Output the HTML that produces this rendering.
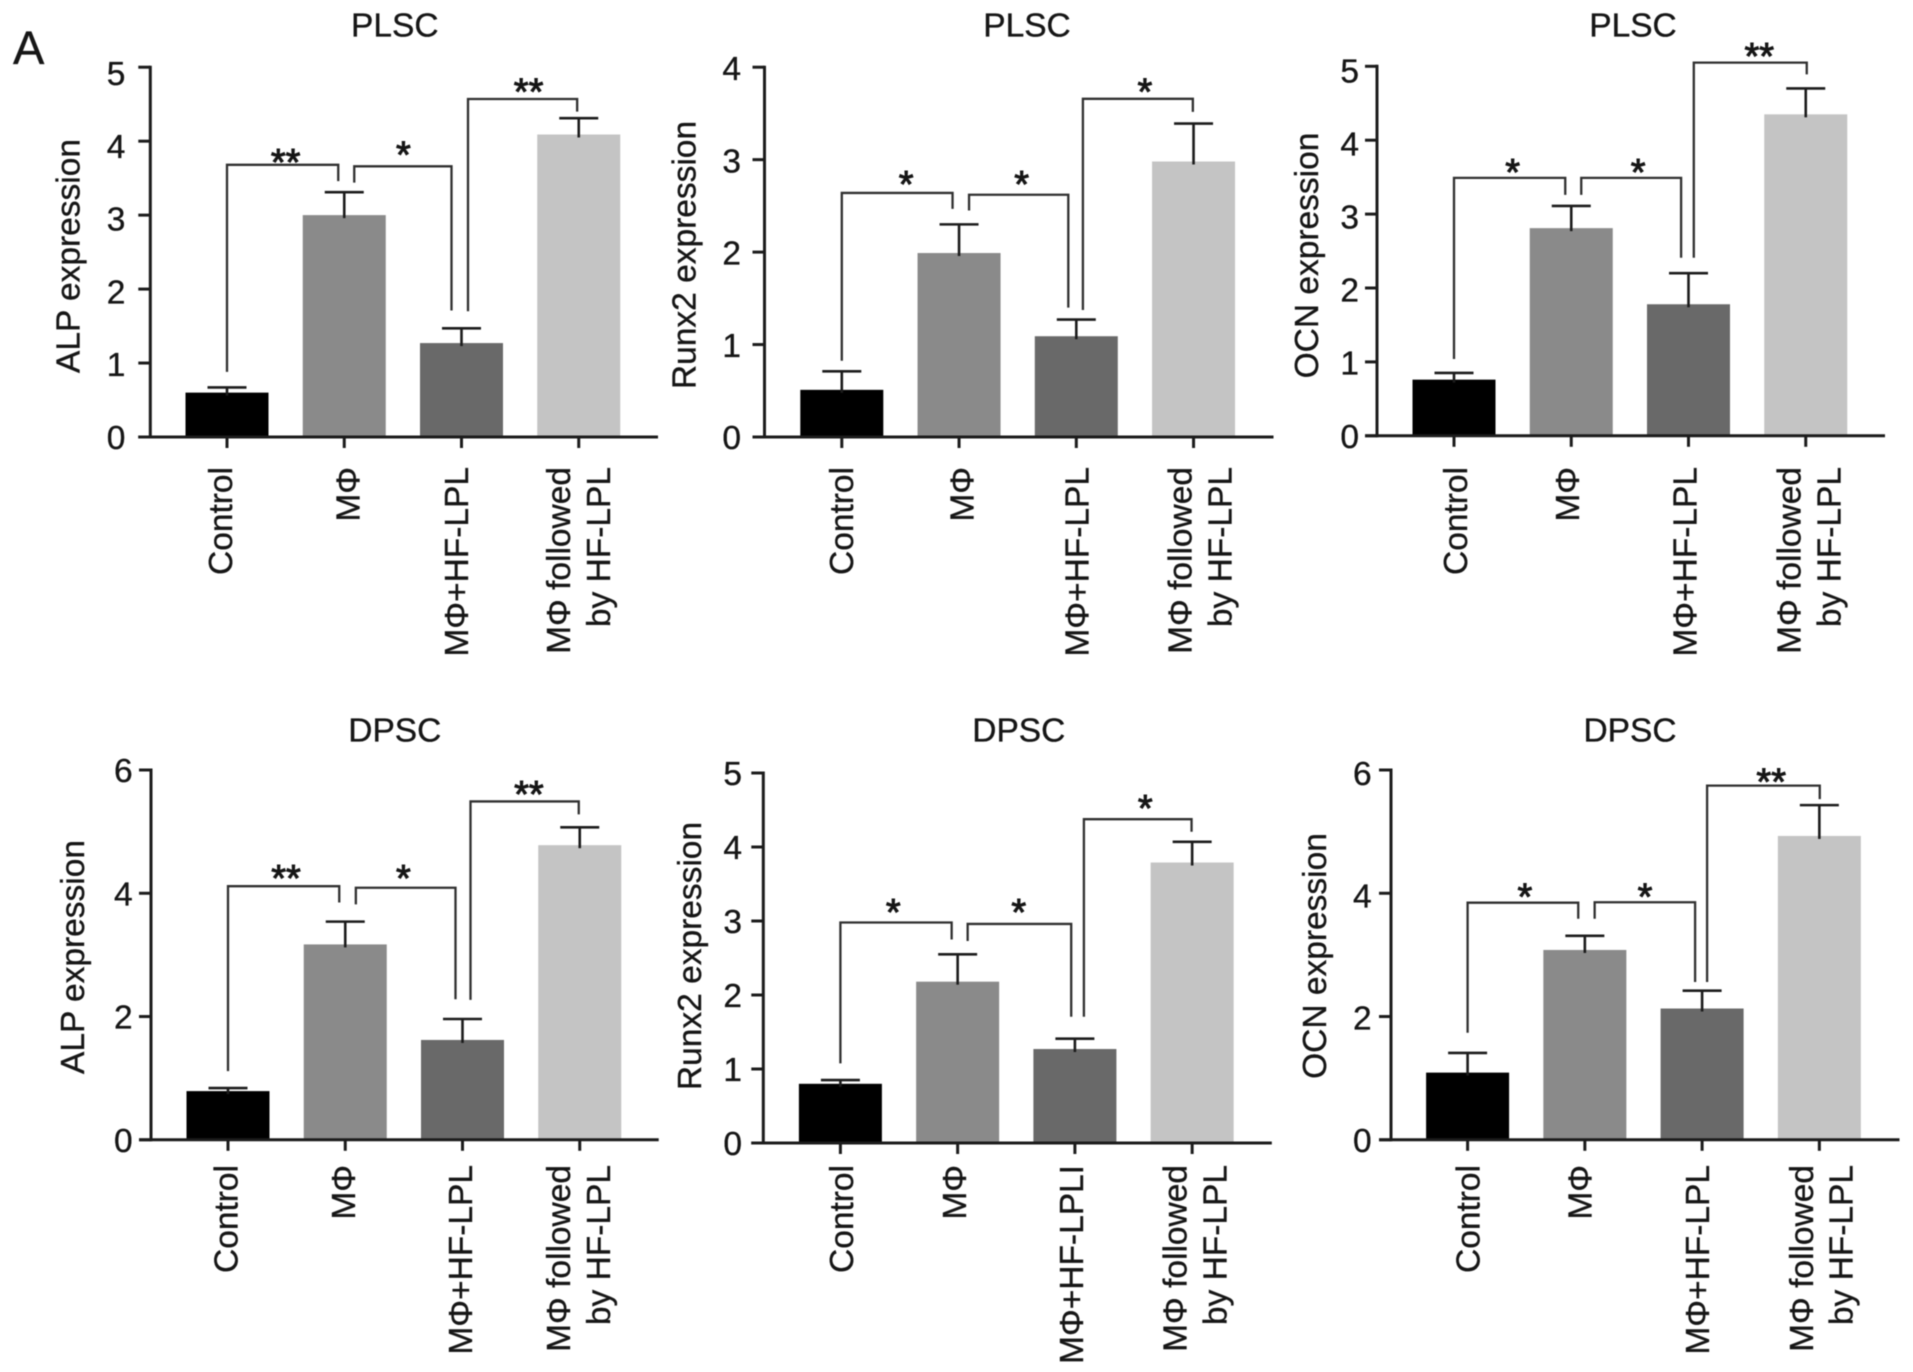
<!DOCTYPE html>
<html lang="en">
<head>
<meta charset="utf-8">
<title>PLSC and DPSC expression bar charts</title>
<style>
html,body{margin:0;padding:0;background:#fff;}
#figure{display:block;width:1913px;height:1372px;filter:blur(0.6px);}
text{font-family:"Liberation Sans",Arial,sans-serif;fill:#161616;stroke:#161616;stroke-width:0.35px;}
</style>
</head>
<body>
<svg id="figure" xmlns="http://www.w3.org/2000/svg" width="1913" height="1372" viewBox="0 0 1913 1372">
<rect x="0" y="0" width="1913" height="1372" fill="#fff"/>
<text x="13" y="64" font-size="47">A</text>
</svg>
<script>
// ---- category labels ----
const categoryLines = [['Control'], ['MΦ'], ['MΦ+HF-LPL'], ['MΦ followed', 'by HF-LPL']];
const categoryLinesRunx2Dpsc = [['Control'], ['MΦ'], ['MΦ+HF-LPLI'], ['MΦ followed', 'by HF-LPL']];

// ---- tick labels ----
const ticks0to5 = [0, 1, 2, 3, 4, 5];
const ticks0to4 = [0, 1, 2, 3, 4];
const ticks0to6 = [0, 2, 4, 6];

// ---- means and error-bar tops ----
const alpPlscMeans = [0.60, 3.00, 1.27, 4.09];
const alpPlscErrorTops = [0.67, 3.31, 1.47, 4.31];
const runx2PlscMeans = [0.51, 1.99, 1.09, 2.98];
const runx2PlscErrorTops = [0.71, 2.30, 1.27, 3.39];
const ocnPlscMeans = [0.76, 2.81, 1.78, 4.35];
const ocnPlscErrorTops = [0.85, 3.11, 2.20, 4.70];
const alpDpscMeans = [0.79, 3.17, 1.62, 4.78];
const alpDpscErrorTops = [0.84, 3.54, 1.96, 5.07];
const runx2DpscMeans = [0.80, 2.18, 1.27, 3.79];
const runx2DpscErrorTops = [0.85, 2.55, 1.41, 4.07];
const ocnDpscMeans = [1.09, 3.08, 2.13, 4.93];
const ocnDpscErrorTops = [1.41, 3.31, 2.42, 5.43];

// ---- significance brackets: [left end, top, right end] in axis units ----
const alpPlscBrackets = [[0.88, 3.68, 3.46], [3.44, 3.66, 1.71], [1.70, 4.57, 4.40]];
const runx2PlscBrackets = [[0.825, 2.64, 2.467], [2.45, 2.62, 1.40], [1.374, 3.658, 3.517]];
const ocnPlscBrackets = [[1.04, 3.49, 3.26], [3.26, 3.49, 2.41], [2.41, 5.05, 4.89]];
const alpDpscBrackets = [[1.115, 4.115, 3.85], [3.82, 4.09, 2.28], [2.27, 5.49, 5.28]];
const runx2DpscBrackets = [[1.076, 2.98, 2.75], [2.73, 2.96, 1.706], [1.706, 4.376, 4.206]];
const ocnDpscBrackets = [[1.736, 3.847, 3.586], [3.586, 3.854, 2.56], [2.56, 5.746, 5.527]];

// ---- significance marks ----
const alpPlscStars = ['**', '*', '**'];
const runx2PlscStars = ['*', '*', '*'];
const ocnPlscStars = ['*', '*', '**'];
const alpDpscStars = ['**', '*', '**'];
const runx2DpscStars = ['*', '*', '*'];
const ocnDpscStars = ['*', '*', '**'];

const barColors = ['#000000', '#8a8a8a', '#696969', '#c4c4c4'];
const inkColor = '#1c1c1c';

const panels = [
  {id:'alp-plsc', title:'PLSC', yTitle:'ALP expression', means:alpPlscMeans, tops:alpPlscErrorTops, brackets:alpPlscBrackets, stars:alpPlscStars, cats:categoryLines, ticks:ticks0to5,
   ax:150.3, xEnd:658, y0:437, yTop:67.2, c0:227, tickLabelRight:125.4, tickShift:6, titleX:394.8, titleY:36.4, yTitleX:79.5, yTitleY:256,
   catX:[232.2,359.3,468,570,610], catTop:467, gaps:[-6,10,-10,6.5,-1.6], starDx:[3,0.5,6], starDy:[9.6,18.6,14.3]},
  {id:'runx2-plsc', title:'PLSC', yTitle:'Runx2 expression', means:runx2PlscMeans, tops:runx2PlscErrorTops, brackets:runx2PlscBrackets, stars:runx2PlscStars, cats:categoryLines, ticks:ticks0to4,
   ax:764.5, xEnd:1273.5, y0:437, yTop:67.2, c0:841.8, tickLabelRight:741, tickShift:1, titleX:1027, titleY:36.4, yTitleX:695.5, yTitleY:255,
   catX:[853,973.4,1088.5,1191.5,1231.5], catTop:467, gaps:[-6.5,10,-8,6.6,-0.7], starDx:[9,3,7], starDy:[16,17.7,14.3]},
  {id:'ocn-plsc', title:'PLSC', yTitle:'OCN expression', means:ocnPlscMeans, tops:ocnPlscErrorTops, brackets:ocnPlscBrackets, stars:ocnPlscStars, cats:categoryLines, ticks:ticks0to5,
   ax:1377, xEnd:1885, y0:435.8, yTop:66.3, c0:1454, tickLabelRight:1359, tickShift:4, titleX:1633, titleY:36.4, yTitleX:1318, yTitleY:255.5,
   catX:[1467.2,1579,1696.4,1800.6,1840.4], catTop:467, gaps:[-6,10,-7.4,5.3,1], starDx:[3,7,9], starDy:[13,13,13.8]},
  {id:'alp-dpsc', title:'DPSC', yTitle:'ALP expression', means:alpDpscMeans, tops:alpDpscErrorTops, brackets:alpDpscBrackets, stars:alpDpscStars, cats:categoryLines, ticks:ticks0to6,
   ax:151, xEnd:658.7, y0:1139.8, yTop:770, c0:228, tickLabelRight:132.6, tickShift:0, titleX:394.8, titleY:741.3, yTitleX:84, yTitleY:957,
   catX:[237.3,355,471.8,570,610], catTop:1165, gaps:[-6,10.6,-7,8,-1], starDx:[2.4,-2.3,4.3], starDy:[15,16.5,14.3]},
  {id:'runx2-dpsc', title:'DPSC', yTitle:'Runx2 expression', means:runx2DpscMeans, tops:runx2DpscErrorTops, brackets:runx2DpscBrackets, stars:runx2DpscStars, cats:categoryLinesRunx2Dpsc, ticks:ticks0to5,
   ax:763.3, xEnd:1271.8, y0:1143, yTop:773, c0:840.4, tickLabelRight:742, tickShift:0, titleX:1018.8, titleY:741.3, yTitleX:701, yTitleY:956,
   catX:[853,966,1083.2,1186.6,1226.6], catTop:1165, gaps:[-6,10,-3.7,9,-0.6], starDx:[-2.7,-0.6,7.5], starDy:[17.5,19,18]},
  {id:'ocn-dpsc', title:'DPSC', yTitle:'OCN expression', means:ocnDpscMeans, tops:ocnDpscErrorTops, brackets:ocnDpscBrackets, stars:ocnDpscStars, cats:categoryLines, ticks:ticks0to6,
   ax:1391, xEnd:1899.5, y0:1139.8, yTop:770, c0:1467.6, tickLabelRight:1371.7, tickShift:3, titleX:1630, titleY:741.3, yTitleX:1326, yTitleY:956,
   catX:[1479.5,1591.4,1709,1813,1852.6], catTop:1165, gaps:[-6.6,9.8,-7,5,0.4], starDx:[2,0.2,7.8], starDy:[13,13,11.3]}
];

const BAR_STEP = 117.25;
const BAR_WIDTH = 83;
const CAP_WIDTH = 39;
const FONT = 33.5;
const svgNS = 'http://www.w3.org/2000/svg';
const figure = document.getElementById('figure');

function make(tag, props, parent) {
  const node = document.createElementNS(svgNS, tag);
  for (const key in props) node.setAttribute(key, props[key]);
  parent.appendChild(node);
  return node;
}

panels.forEach(function (p) {
  const maxTick = p.ticks[p.ticks.length - 1];
  const yScale = function (v) { return p.y0 - (v / maxTick) * (p.y0 - p.yTop); };
  const xScale = function (i) { return p.c0 + i * BAR_STEP; };

  const group = make('g', {}, figure);
  
  

  const title = make('text', {x: p.titleX, y: p.titleY, 'font-size': FONT, 'text-anchor': 'middle'}, group);
  title.textContent = p.title;
  
  

  const yTitle = make('text', {transform: 'translate(' + p.yTitleX + ' ' + p.yTitleY + ') rotate(-90)', 'font-size': FONT, 'text-anchor': 'middle'}, group);
  yTitle.textContent = p.yTitle;
  
  

  // bars
  p.means.forEach(function (value, i) {
    const top = yScale(value);
    const bar = make('rect', {x: xScale(i) - BAR_WIDTH / 2, y: top, width: BAR_WIDTH, height: p.y0 - top, fill: barColors[i]}, group);
    
    
  });

  // error bars
  p.tops.forEach(function (value, i) {
    const cx = xScale(i);
    const yEnd = yScale(value);
    const stem = make('line', {x1: cx, x2: cx, y1: yScale(p.means[i]) + 3, y2: yEnd, stroke: inkColor, 'stroke-width': 2.6}, group);
    
    
    const cap = make('line', {x1: cx - CAP_WIDTH / 2, x2: cx + CAP_WIDTH / 2, y1: yEnd, y2: yEnd, stroke: inkColor, 'stroke-width': 2.6}, group);
    
    
  });

  // significance brackets
  const bracketXs = [
    [xScale(0), xScale(1) + p.gaps[0]],
    [xScale(1) + p.gaps[1], xScale(2) + p.gaps[2]],
    [xScale(2) + p.gaps[3], xScale(3) + p.gaps[4]]
  ];
  p.brackets.forEach(function (b, i) {
    const xs = bracketXs[i];
    const topY = yScale(b[1]);
    const path = make('path', {d: 'M' + xs[0] + ' ' + yScale(b[0]) + 'V' + topY + 'H' + xs[1] + 'V' + yScale(b[2]), fill: 'none', stroke: '#303030', 'stroke-width': 2.3}, group);
    
    
    const star = make('text', {x: (xs[0] + xs[1]) / 2 + p.starDx[i], y: topY - p.starDy[i] + 20, 'font-size': 38, 'text-anchor': 'middle', style: 'stroke-width:1px'}, group);
    star.textContent = p.stars[i];
    
    
  });

  // axes
  const yAxis = make('line', {x1: p.ax, x2: p.ax, y1: p.yTop - 1.5, y2: p.y0 + 1.5, stroke: inkColor, 'stroke-width': 3}, group);
  
  
  const xAxis = make('line', {x1: p.ax - 12, x2: p.xEnd, y1: p.y0, y2: p.y0, stroke: inkColor, 'stroke-width': 3}, group);
  
  

  p.ticks.forEach(function (tick) {
    const y = yScale(tick);
    const mark = make('line', {x1: p.ax - 12, x2: p.ax, y1: y, y2: y, stroke: inkColor, 'stroke-width': 3}, group);
    
    
    const label = make('text', {x: p.tickLabelRight, y: y + 12 + p.tickShift * (tick / maxTick), 'font-size': FONT, 'text-anchor': 'end'}, group);
    label.textContent = tick;
    
    
  });

  // category ticks and labels
  p.cats.forEach(function (lines, i) {
    const cx = xScale(i);
    const mark = make('line', {x1: cx, x2: cx, y1: p.y0, y2: p.y0 + 11, stroke: inkColor, 'stroke-width': 3}, group);
    
    
    lines.forEach(function (line, j) {
      const label = make('text', {transform: 'translate(' + p.catX[i + j] + ' ' + p.catTop + ') rotate(-90)', 'font-size': FONT, 'text-anchor': 'end'}, group);
      label.textContent = line;
      
      
    });
  });
});
</script>
</body>
</html>
